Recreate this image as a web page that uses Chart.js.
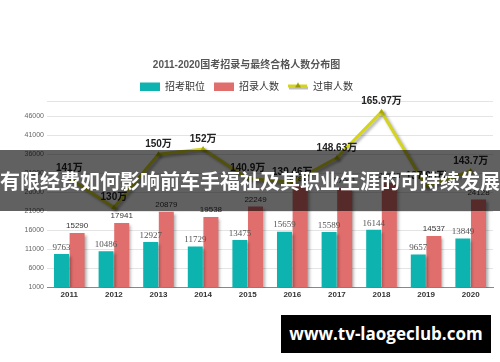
<!DOCTYPE html>
<html>
<head>
<meta charset="utf-8">
<script src="https://cdn.jsdelivr.net/npm/chart.js@4.4.0/dist/chart.umd.min.js"></script>
<style>
  html, body { margin: 0; padding: 0; background: #fff; }
  #wrap { position: relative; width: 500px; height: 362px; overflow: hidden; }
  #banner {
    position: absolute; left: 0; top: 150px; width: 500px; height: 61px;
    background: rgba(0, 0, 0, 0.62); color: #fff;
    font: bold 20px "Noto Sans CJK SC", sans-serif; line-height: 61px;
    text-align: center; white-space: nowrap;
  }
  #site {
    position: absolute; left: 281px; top: 315px; width: 210px; height: 38px;
    background: #000; color: #fff; white-space: nowrap;
    font: bold 17px "Open Sans", sans-serif; line-height: 38px; text-align: center;
  }
</style>
</head>
<body>
<div id="wrap">
  <canvas id="chart" width="500" height="362"></canvas>
  <div id="banner">有限经费如何影响前车手福祉及其职业生涯的可持续发展</div>
  <div id="site">www.tv-laogeclub.com</div>
</div>
<script>
// Data
const years = ["2011", "2012", "2013", "2014", "2015", "2016", "2017", "2018", "2019", "2020"];
const positions = [9763, 10486, 12927, 11729, 13475, 15659, 15589, 16144, 9657, 13849];
const recruits = [15290, 17941, 20879, 19538, 22249, 27817, 27061, 28533, 14537, 24128];
const applicants = [141, 130, 150, 152, 140.9, 139.46, 148.63, 165.97, 137.93, 143.7];
const seriesNames = ["招考职位", "招录人数", "过审人数"];
const yTicks = [1000, 6000, 11000, 16000, 21000, 26000, 31000, 36000, 41000, 46000, 50000];

const TEAL = "#0db3ae";
const RED = "#e06e6c";
const YELLOW = "#d4d41e";

// Legend icons (box for bars, line + triangle for the line)
function legendIcon(kind, color) {
  const c = document.createElement("canvas");
  c.width = 20; c.height = 9;
  const g = c.getContext("2d");
  if (kind === "box") {
    g.fillStyle = color;
    g.fillRect(0, 1, 20, 8);
  } else {
    g.fillStyle = "rgba(0,0,0,0.25)";
    g.fillRect(1, 5, 19, 3);
    g.fillStyle = color;
    g.fillRect(0, 3, 19, 3);
    g.fillStyle = "#9a9a00";
    g.beginPath();
    g.moveTo(10, 1); g.lineTo(13, 6); g.lineTo(7, 6);
    g.closePath(); g.fill();
  }
  return c;
}
const legendIcons = [legendIcon("box", TEAL), legendIcon("box", RED), legendIcon("line", YELLOW)];

// Drop shadow under bars and line
const shadow = {
  id: "shadow",
  beforeDatasetDraw(chart) {
    const ctx = chart.ctx;
    ctx.save();
    ctx.shadowColor = "rgba(0,0,0,0.35)";
    ctx.shadowBlur = 3;
    ctx.shadowOffsetX = 2;
    ctx.shadowOffsetY = 2;
  },
  afterDatasetDraw(chart) {
    chart.ctx.restore();
  }
};

// Value labels above bars and points
const valueLabels = {
  id: "valueLabels",
  afterDatasetsDraw(chart) {
    const ctx = chart.ctx;
    ctx.save();
    ctx.textAlign = "center";
    ctx.textBaseline = "bottom";
    chart.data.datasets.forEach((ds, i) => {
      const meta = chart.getDatasetMeta(i);
      meta.data.forEach((el, j) => {
        const v = ds.data[j];
        if (i === 0) {
          ctx.font = "9px 'Liberation Serif', serif";
          ctx.fillStyle = "#555";
          ctx.fillText(v, el.x, el.y - 2);
        } else if (i === 1) {
          ctx.font = "8px 'Liberation Sans', sans-serif";
          ctx.fillStyle = "#333";
          ctx.fillText(v, el.x, el.y - 3);
        } else {
          ctx.font = "bold 10px 'Liberation Sans', 'Noto Sans CJK SC', sans-serif";
          ctx.fillStyle = "#222";
          ctx.fillText(v + "万", el.x, el.y - 5);
        }
      });
    });
    ctx.restore();
  }
};

const ctx = document.getElementById("chart").getContext("2d");
const chart = new Chart(ctx, {
  type: "bar",
  data: {
    labels: years,
    datasets: [
      {
        label: seriesNames[0],
        data: positions,
        backgroundColor: TEAL,
        barPercentage: 0.96,
        categoryPercentage: 0.7
      },
      {
        label: seriesNames[1],
        data: recruits,
        backgroundColor: RED,
        barPercentage: 0.96,
        categoryPercentage: 0.7
      },
      {
        type: "line",
        label: seriesNames[2],
        data: applicants,
        yAxisID: "y2",
        borderColor: YELLOW,
        borderWidth: 3,
        tension: 0,
        fill: false,
        pointStyle: "triangle",
        pointRadius: 3,
        pointBackgroundColor: "#a8a800",
        pointBorderWidth: 0
      }
    ]
  },
  options: {
    responsive: false,
    animation: false,
    layout: { padding: { top: 61, right: 7, bottom: 59, left: 0 } },
    plugins: {
      tooltip: { enabled: false },
      title: {
        display: true,
        text: "2011-2020国考招录与最终合格人数分布图",
        color: "#555",
        font: { family: "'Liberation Sans', 'Noto Sans CJK SC', sans-serif", size: 10, weight: "bold", lineHeight: 0.8 },
        padding: { top: 0, bottom: 3 }
      },
      legend: {
        labels: {
          usePointStyle: true,
          pointStyleWidth: 20,
          boxHeight: 9,
          padding: 9,
          color: "#333",
          font: { family: "'Noto Sans CJK SC', sans-serif", size: 10 },
          generateLabels(chart) {
            const items = Chart.defaults.plugins.legend.labels.generateLabels(chart);
            items.forEach((it, i) => { it.pointStyle = legendIcons[i]; });
            return items;
          }
        }
      }
    },
    scales: {
      x: {
        grid: { display: false, drawTicks: false },
        border: { color: "#888", width: 1 },
        ticks: {
          color: "#333",
          padding: 3,
          font: { family: "'Liberation Sans', sans-serif", size: 8, weight: "bold" }
        }
      },
      y: {
        min: 1000,
        max: 50000,
        afterBuildTicks: (s) => { s.ticks = yTicks.map(v => ({ value: v })); },
        afterFit: (s) => { s.width = 47; },
        border: { display: false },
        grid: { color: "#e4e4e4", drawTicks: false },
        ticks: {
          color: "#666",
          padding: 3,
          font: { family: "'Liberation Sans', sans-serif", size: 7 },
          callback: (v) => (v === 50000 ? "" : v)
        }
      },
      y2: {
        display: false,
        min: 100,
        max: 170
      }
    }
  },
  plugins: [shadow, valueLabels]
});
</script>
</body>
</html>
